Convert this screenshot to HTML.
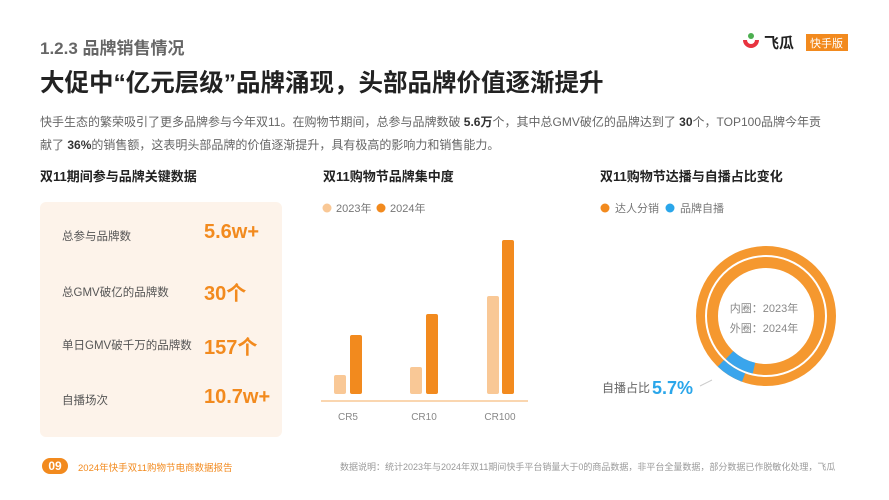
<!DOCTYPE html>
<html><head><meta charset="utf-8"><style>
body{margin:0;width:889px;height:500px;background:#fff;position:relative;overflow:hidden;font-family:"Liberation Sans","Noto Sans CJK SC",sans-serif}
.a{position:absolute;white-space:nowrap}
.card{position:absolute;left:40px;top:202px;width:242px;height:235px;background:#fdf3ea;border-radius:6px}
.lab{position:absolute;left:62px;font-size:11.5px;color:#555}
.val{position:absolute;left:204px;font-size:20px;font-weight:bold;color:#f28a1e}
</style></head><body>
<div class="a" style="left:40px;top:34px;font-size:17px;color:#666;font-weight:bold">1.2.3 品牌销售情况</div>
<div class="a" style="left:40px;top:64px;font-size:24.5px;font-weight:bold;color:#222">大促中“亿元层级”品牌涌现，头部品牌价值逐渐提升</div>
<div class="a" style="left:40px;top:111px;font-size:12px;color:#666;line-height:23px">快手生态的繁荣吸引了更多品牌参与今年双11。在购物节期间，总参与品牌数破 <b style="color:#333">5.6万</b>个，其中总GMV破亿的品牌达到了 <b style="color:#333">30</b>个，TOP100品牌今年贡<br>献了 <b style="color:#333">36%</b>的销售额，这表明头部品牌的价值逐渐提升，具有极高的影响力和销售能力。</div>
<svg class="a" style="left:740px;top:31px" width="110" height="22"><path d="M3 9 A8 8 0 0 0 19 9 L15 9 A4 4 0 0 1 7 9Z" fill="#e8333f"/><circle cx="11" cy="5" r="3" fill="#4caf50"/><text x="24" y="17" font-size="15" font-weight="bold" fill="#222" font-family="Noto Sans CJK SC">飞瓜</text><rect x="66" y="3" width="42" height="17" fill="#f28a1e"/><text x="70" y="16" font-size="11" fill="#fff" font-family="Noto Sans CJK SC">快手版</text></svg>
<div class="a" style="left:40px;top:166px;font-size:13px;font-weight:bold;color:#222">双11期间参与品牌关键数据</div>
<div class="a" style="left:323px;top:166px;font-size:13px;font-weight:bold;color:#222">双11购物节品牌集中度</div>
<div class="a" style="left:600px;top:166px;font-size:13px;font-weight:bold;color:#222">双11购物节达播与自播占比变化</div>
<div class="card"></div>
<div class="lab" style="top:228px">总参与品牌数</div><div class="val" style="top:221px">5.6w+</div>
<div class="lab" style="top:284px">总GMV破亿的品牌数</div><div class="val" style="top:277px">30个</div>
<div class="lab" style="top:337px">单日GMV破千万的品牌数</div><div class="val" style="top:331px">157个</div>
<div class="lab" style="top:392px">自播场次</div><div class="val" style="top:386px">10.7w+</div>
<svg class="a" style="left:300px;top:190px" width="589" height="250" font-family="Liberation Sans,Noto Sans CJK SC,sans-serif">
<circle cx="27" cy="18" r="4.5" fill="#f9c896"/><text x="36" y="22" font-size="11" fill="#777">2023年</text>
<circle cx="81" cy="18" r="4.5" fill="#f28a1e"/><text x="90" y="22" font-size="11" fill="#777">2024年</text>
<rect x="34" y="185" width="12" height="19" rx="2" fill="#f9c896"/><rect x="50" y="145" width="12" height="59" rx="2" fill="#f28a1e"/>
<rect x="110" y="177" width="12" height="27" rx="2" fill="#f9c896"/><rect x="126" y="124" width="12" height="80" rx="2" fill="#f28a1e"/>
<rect x="187" y="106" width="12" height="98" rx="2" fill="#f9c896"/><rect x="202" y="50" width="12" height="154" rx="2" fill="#f28a1e"/>
<line x1="21" y1="211" x2="228" y2="211" stroke="#f9c896" stroke-width="1.5"/>
<text x="48" y="230" font-size="10" fill="#888" text-anchor="middle">CR5</text>
<text x="124" y="230" font-size="10" fill="#888" text-anchor="middle">CR10</text>
<text x="200" y="230" font-size="10" fill="#888" text-anchor="middle">CR100</text>
<circle cx="305" cy="18" r="4.5" fill="#f28a1e"/><text x="315" y="22" font-size="11" fill="#777">达人分销</text>
<circle cx="370" cy="18" r="4.5" fill="#2aa6ea"/><text x="380" y="22" font-size="11" fill="#777">品牌自播</text>
<g transform="translate(466,126)">
<circle r="65.5" fill="none" stroke="#f5982f" stroke-width="9"/>
<circle r="53.5" fill="none" stroke="#f5982f" stroke-width="11"/>
<circle r="65.5" fill="none" stroke="#3aa5ec" stroke-width="9" stroke-dasharray="27 500" transform="rotate(110)"/>
<circle r="53.5" fill="none" stroke="#3aa5ec" stroke-width="11" stroke-dasharray="28 500" transform="rotate(103)"/>
<text x="-2" y="-4" font-size="11" fill="#888" text-anchor="middle">内圈：2023年</text>
<text x="-2" y="16" font-size="11" fill="#888" text-anchor="middle">外圈：2024年</text>
</g>
<line x1="400" y1="196" x2="412" y2="190" stroke="#ccc"/>
<text x="302" y="202" font-size="12" fill="#666">自播占比</text>
<text x="352" y="204" font-size="18" font-weight="bold" fill="#2aa6ea">5.7%</text>
</svg>
<div class="a" style="left:42px;top:458px;width:26px;height:16px;border-radius:8px;background:#f28a1e;color:#fff;font-size:12px;font-weight:bold;text-align:center;line-height:16px">09</div>
<div class="a" style="left:78px;top:460px;font-size:9.5px;color:#f28a1e">2024年快手双11购物节电商数据报告</div>
<div class="a" style="left:340px;top:460px;font-size:9px;color:#999">数据说明：统计2023年与2024年双11期间快手平台销量大于0的商品数据，非平台全量数据，部分数据已作脱敏化处理，飞瓜</div>
</body></html>
